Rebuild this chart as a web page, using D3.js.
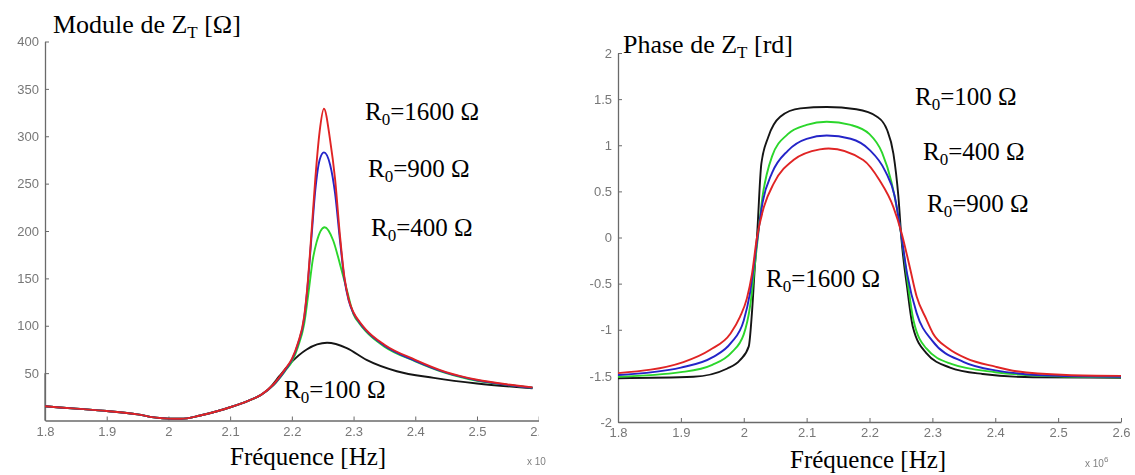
<!DOCTYPE html>
<html>
<head>
<meta charset="utf-8">
<script src="https://cdn.jsdelivr.net/npm/d3@7"></script>
<style>
  html, body { margin: 0; padding: 0; background: #fff; }
  svg { display: block; }
</style>
</head>
<body>
<svg id="chart" width="1135" height="475"></svg>
<script>
// ---------------- DATA ----------------
// Left chart: module of Z_T [Ohm] versus frequency (x 10^6 Hz)
const modTicksY = [50, 100, 150, 200, 250, 300, 350, 400];
const freqTicks = [1.8, 1.9, 2.0, 2.1, 2.2, 2.3, 2.4, 2.5, 2.6];

const modF1600 = [1.80,1.85,1.90,1.95,1.98,2.00,2.02,2.05,2.08,2.10,2.13,2.15,2.17,2.19,2.20,2.21,2.22,2.225,2.232,2.238,2.245,2.252,2.262,2.27,2.278,2.285,2.292,2.30,2.31,2.32,2.35,2.40,2.45,2.50,2.55,2.59];
const modV1600 = [15,12.5,10,6.5,3,2,1.8,5,10,14,21,27,38,55,65,82,110,140,200,255,305,329,296,255,195,152,128,114,104,96,80,64,51,43,38,35];

const modF900 = [1.80,1.85,1.90,1.95,1.98,2.00,2.02,2.05,2.08,2.10,2.13,2.15,2.17,2.19,2.20,2.21,2.22,2.225,2.232,2.238,2.245,2.252,2.262,2.27,2.278,2.285,2.292,2.30,2.31,2.32,2.35,2.40,2.45,2.50,2.55,2.59];
const modV900 = [15,12.5,10,6.5,3,2,1.8,5,10,14,21,27,37.5,54,64,81,108,138,195,243,275,283,270,240,190,150,127,113,103,95,79,63,50.5,42.5,37.5,34.5];

const modF400 = [1.80,1.85,1.90,1.95,1.98,2.00,2.02,2.05,2.08,2.10,2.13,2.15,2.17,2.19,2.20,2.21,2.22,2.227,2.234,2.24,2.253,2.267,2.278,2.289,2.30,2.31,2.32,2.35,2.40,2.45,2.50,2.55,2.59];
const modV400 = [15,12.5,10,6.5,3,2,1.8,5,10,14,21,27,37,53,62,78,102,135,170,188,204,190,165,138,112,102,94,78,62.5,50,42,37.5,34.5];

const modF100 = [1.80,1.85,1.90,1.95,1.98,2.00,2.02,2.05,2.08,2.10,2.13,2.15,2.165,2.18,2.197,2.224,2.257,2.289,2.321,2.37,2.43,2.50,2.59];
const modV100 = [15,12.5,10,6.5,3,2,1.8,5,10,14,21,27,35,47,60,75,82,76.5,64,52,45,39,34];

// Right chart: phase of Z_T [rd]
const phaseTicksY = [-2, -1.5, -1, -0.5, 0, 0.5, 1, 1.5, 2];

const phF100 = [1.80,1.92,1.974,1.994,2.008,2.013,2.018,2.021,2.028,2.039,2.058,2.09,2.132,2.179,2.212,2.228,2.238,2.246,2.251,2.26,2.269,2.29,2.328,2.38,2.46,2.60];
const phV100 = [-1.525,-1.51,-1.42,-1.33,-1.18,-0.82,-0.28,0,0.8,1.09,1.31,1.40,1.415,1.39,1.31,1.165,0.91,0.44,-0.03,-0.55,-0.97,-1.25,-1.41,-1.48,-1.515,-1.52];

const phF400 = [1.80,1.90,1.95,1.98,2.00,2.01,2.02,2.03,2.045,2.07,2.10,2.132,2.17,2.20,2.22,2.235,2.25,2.26,2.27,2.29,2.33,2.40,2.50,2.60];
const phV400 = [-1.51,-1.46,-1.38,-1.25,-1.05,-0.75,-0.15,0.45,0.88,1.12,1.22,1.255,1.22,1.12,0.92,0.6,0.05,-0.45,-0.9,-1.2,-1.37,-1.46,-1.505,-1.515];

const phF900 = [1.80,1.90,1.95,1.98,2.00,2.01,2.02,2.03,2.045,2.07,2.10,2.132,2.17,2.20,2.225,2.24,2.25,2.26,2.275,2.30,2.35,2.40,2.50,2.60];
const phV900 = [-1.49,-1.41,-1.3,-1.14,-0.9,-0.6,-0.1,0.38,0.7,0.94,1.07,1.105,1.07,0.95,0.72,0.45,0.05,-0.4,-0.82,-1.12,-1.35,-1.44,-1.5,-1.51];

const phF1600 = [1.80,1.904,1.946,1.979,1.994,2.005,2.013,2.021,2.032,2.048,2.079,2.121,2.135,2.19,2.216,2.238,2.251,2.264,2.275,2.29,2.301,2.325,2.354,2.40,2.434,2.513,2.60];
const phV1600 = [-1.47,-1.35,-1.22,-1.04,-0.86,-0.66,-0.4,0,0.33,0.59,0.84,0.955,0.965,0.84,0.62,0.33,0.05,-0.32,-0.64,-0.88,-1.04,-1.2,-1.31,-1.40,-1.45,-1.49,-1.50];

const seriesColors = { r100: "#151515", r400: "#2bd62b", r900: "#2424c8", r1600: "#e02424" };

// ---------------- DRAWING ----------------
const SERIF = "'Liberation Serif', 'Times New Roman', serif";
const SANS = "'Liberation Sans', Arial, sans-serif";
const svg = d3.select("#chart");
const zip = (fs, vs) => fs.map((f, i) => [f, vs[i]]);
const fmt = d => String(d);

function subText(g, x, y, parts, size, subSize) {
  const t = g.append("text").attr("x", x).attr("y", y)
    .attr("font-family", SERIF).attr("fill", "#000").attr("font-size", size);
  t.append("tspan").text(parts[0]);
  t.append("tspan").attr("dy", 5).attr("font-size", subSize).text(parts[1]);
  t.append("tspan").attr("dy", -5).text(parts[2]);
  return t;
}

const defs = svg.append("defs");
defs.append("filter").attr("id", "soft")
  .append("feGaussianBlur").attr("stdDeviation", 0.4);
defs.append("clipPath").attr("id", "clipL").append("rect")
  .attr("x", 0).attr("y", 0).attr("width", 539).attr("height", 475);
defs.append("clipPath").attr("id", "clipLplot").append("rect")
  .attr("x", 45).attr("y", 30).attr("width", 488).attr("height", 392);

function styleAxis(a) {
  a.attr("font-size", 13).attr("font-family", SANS);
  a.select(".domain").attr("stroke", "#6a6a6a").attr("stroke-width", 1.3);
  a.selectAll(".tick line").attr("stroke", "#6a6a6a");
  a.selectAll(".tick text").attr("fill", "#777").attr("font-size", 13)
    .attr("font-family", SANS).attr("filter", "url(#soft)");
}

// ----- Left chart -----
const xL = d3.scaleLinear().domain([1.8, 2.6]).range([45, 538.7]);
const yL = d3.scaleLinear().domain([0, 400]).range([420.5, 41.5]);

const gL = svg.append("g").attr("clip-path", "url(#clipL)");
const axL_x = gL.append("g").attr("transform", "translate(0,420.5)")
  .call(d3.axisBottom(xL).tickValues(freqTicks).tickFormat(fmt).tickSizeInner(-4).tickSizeOuter(0).tickPadding(6));
const axL_y = gL.append("g").attr("transform", "translate(45,0)")
  .call(d3.axisLeft(yL).tickValues(modTicksY).tickFormat(fmt).tickSizeInner(-4).tickSizeOuter(0).tickPadding(6));
styleAxis(axL_x); styleAxis(axL_y);
gL.append("line").attr("x1", 45).attr("x2", 45).attr("y1", yL(50)).attr("y2", 420.5)
  .attr("stroke", "#6a6a6a").attr("stroke-width", 1.3);

const lineL = d3.line().x(d => xL(d[0])).y(d => yL(d[1])).curve(d3.curveMonotoneX);
const plotL = gL.append("g").attr("clip-path", "url(#clipLplot)");
[[modF100, modV100, seriesColors.r100],
 [modF400, modV400, seriesColors.r400],
 [modF900, modV900, seriesColors.r900],
 [modF1600, modV1600, seriesColors.r1600]].forEach(([f, v, c]) => {
  plotL.append("path").datum(zip(f, v)).attr("d", lineL)
    .attr("fill", "none").attr("stroke", c).attr("stroke-width", 1.9)
    .attr("stroke-linejoin", "round");
});

svg.append("text").attr("x", 527).attr("y", 465)
  .attr("font-family", SANS).attr("font-size", 10)
  .attr("fill", "#808080").attr("filter", "url(#soft)").text("x 10");

subText(svg, 53, 33, ["Module de Z", "T", " [Ω]"], 26, 17);
subText(svg, 365, 120, ["R", "0", "=1600 Ω"], 25, 17);
subText(svg, 368, 177, ["R", "0", "=900 Ω"], 25, 17);
subText(svg, 371, 236, ["R", "0", "=400 Ω"], 25, 17);
subText(svg, 284, 398, ["R", "0", "=100 Ω"], 25, 17);
svg.append("text").attr("font-family", SERIF).attr("x", 230).attr("y", 465)
  .attr("font-size", 25).text("Fréquence [Hz]");

// ----- Right chart -----
const xR = d3.scaleLinear().domain([1.8, 2.6]).range([618, 1121]);
const yR = d3.scaleLinear().domain([-2, 2]).range([422, 53]);

const gR = svg.append("g");
const axR_x = gR.append("g").attr("transform", "translate(0,422)")
  .call(d3.axisBottom(xR).tickValues(freqTicks).tickFormat(fmt).tickSizeInner(-4).tickSizeOuter(0).tickPadding(6));
const axR_y = gR.append("g").attr("transform", "translate(618,0)")
  .call(d3.axisLeft(yR).tickValues(phaseTicksY).tickFormat(fmt).tickSizeInner(-4).tickSizeOuter(0).tickPadding(6));
styleAxis(axR_x); styleAxis(axR_y);

const lineR = d3.line().x(d => xR(d[0])).y(d => yR(d[1])).curve(d3.curveMonotoneX);
[[phF100, phV100, seriesColors.r100],
 [phF400, phV400, seriesColors.r400],
 [phF900, phV900, seriesColors.r900],
 [phF1600, phV1600, seriesColors.r1600]].forEach(([f, v, c]) => {
  gR.append("path").datum(zip(f, v)).attr("d", lineR)
    .attr("fill", "none").attr("stroke", c).attr("stroke-width", 1.9)
    .attr("stroke-linejoin", "round");
});

const x10 = svg.append("text").attr("x", 1085).attr("y", 467)
  .attr("font-family", SANS).attr("font-size", 10)
  .attr("fill", "#808080").attr("filter", "url(#soft)");
x10.append("tspan").text("x 10");
x10.append("tspan").attr("dy", -5).attr("font-size", 8).text("6");

subText(svg, 623, 53, ["Phase de Z", "T", " [rd]"], 26, 17);
subText(svg, 915, 105, ["R", "0", "=100 Ω"], 25, 17);
subText(svg, 923, 160, ["R", "0", "=400 Ω"], 25, 17);
subText(svg, 927, 212, ["R", "0", "=900 Ω"], 25, 17);
subText(svg, 766, 287, ["R", "0", "=1600 Ω"], 25, 17);
svg.append("text").attr("font-family", SERIF).attr("x", 790).attr("y", 468)
  .attr("font-size", 25).text("Fréquence [Hz]");
</script>
</body>
</html>
